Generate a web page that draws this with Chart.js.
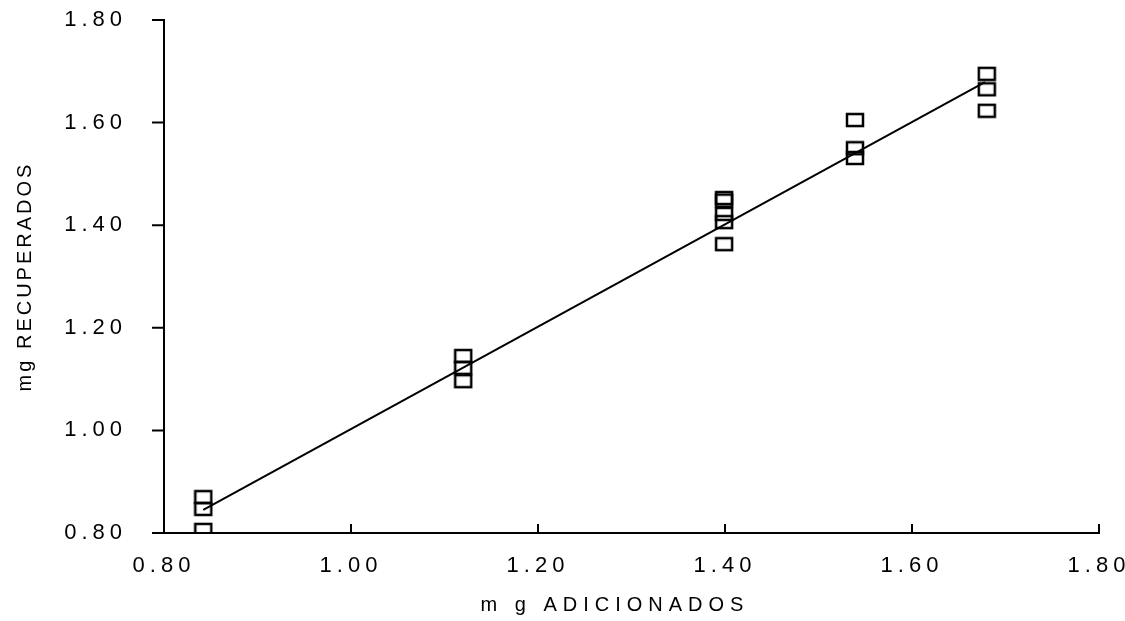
<!DOCTYPE html>
<html>
<head>
<meta charset="utf-8">
<script src="https://cdn.jsdelivr.net/npm/chart.js@4"></script>
<style>
  html, body { margin: 0; padding: 0; background: #fff; }
  #wrap { width: 1125px; height: 621px; position: relative; }
</style>
</head>
<body>
<div id="wrap"><canvas id="chart"></canvas></div>
<script>
// mg adicionados vs mg recuperados (replicas por nivel)
const addedMg = [0.842, 0.842, 0.842, 1.120, 1.120, 1.120, 1.399, 1.399, 1.399, 1.399, 1.399, 1.539, 1.539, 1.539, 1.680, 1.680, 1.680];
const recoveredMg = [0.870, 0.847, 0.806, 1.145, 1.122, 1.096, 1.453, 1.448, 1.422, 1.406, 1.363, 1.605, 1.550, 1.531, 1.695, 1.665, 1.623];

// recta de regresion (extremos)
const fitX = [0.842, 1.678];
const fitY = [0.845, 1.679];

const tickValues = [0.8, 1.0, 1.2, 1.4, 1.6, 1.8];
const xTitle = "m g ADICIONADOS";
const yTitle = "mg RECUPERADOS";

const FONT = "'Liberation Sans', Arial, sans-serif";

// marcador: rectangulo hueco
function makeBox() {
  const c = document.createElement("canvas");
  c.width = 20;
  c.height = 16;
  const g = c.getContext("2d");
  g.strokeStyle = "#000";
  g.lineWidth = 2.5;
  g.strokeRect(2, 2, 16, 12);
  return c;
}

const scatterPoints = addedMg.map((x, i) => ({ x: x, y: recoveredMg[i] }));
const fitPoints = fitX.map((x, i) => ({ x: x, y: fitY[i] }));

// marcas de los ejes y titulos
const axisDecor = {
  id: "axisDecor",
  beforeDraw(chart) {
    chart.ctx.letterSpacing = "5px";
  },
  afterDraw(chart) {
    const ctx = chart.ctx;
    const xs = chart.scales.x;
    const ys = chart.scales.y;
    const area = chart.chartArea;
    ctx.save();
    ctx.strokeStyle = "#000";
    ctx.lineWidth = 2;
    ctx.beginPath();
    tickValues.forEach((v) => {
      const px = xs.getPixelForValue(v);
      ctx.moveTo(px, area.bottom);
      ctx.lineTo(px, area.bottom - 9);
      const py = ys.getPixelForValue(v);
      ctx.moveTo(area.left, py);
      ctx.lineTo(area.left - 12, py);
    });
    ctx.stroke();

    ctx.fillStyle = "#000";
    ctx.textBaseline = "middle";
    ctx.textAlign = "center";
    ctx.font = "20px " + FONT;
    ctx.letterSpacing = "6px";
    ctx.fillText(xTitle, 615, 605);

    ctx.letterSpacing = "3px";
    ctx.translate(25, (area.top + area.bottom) / 2);
    ctx.rotate(-Math.PI / 2);
    ctx.fillText(yTitle, 0, 0);
    ctx.restore();
    ctx.letterSpacing = "0px";
  },
};

const ctx = document.getElementById("chart");

new Chart(ctx, {
  data: {
    datasets: [
      {
        type: "scatter",
        label: "datos",
        data: scatterPoints,
        pointStyle: makeBox(),
        pointRadius: 8,
      },
      {
        type: "line",
        label: "ajuste",
        data: fitPoints,
        borderColor: "#000",
        borderWidth: 2,
        pointRadius: 0,
        fill: false,
        tension: 0,
      },
    ],
  },
  options: {
    responsive: true,
    maintainAspectRatio: false,
    animation: false,
    events: [],
    layout: {
      autoPadding: false,
      padding: { top: 20, right: 26, bottom: 0, left: 0 },
    },
    plugins: {
      legend: { display: false },
      tooltip: { enabled: false },
    },
    scales: {
      x: {
        type: "linear",
        min: 0.8,
        max: 1.8,
        afterFit: (scale) => {
          scale.height = 88;
          scale.paddingLeft = 0;
          scale.paddingRight = 0;
        },
        afterBuildTicks: (scale) => {
          scale.ticks = tickValues.map((v) => ({ value: v }));
        },
        ticks: {
          padding: 20,
          color: "#000",
          font: { family: FONT, size: 22 },
          callback: (v) => v.toFixed(2),
        },
        grid: { display: false, drawTicks: false },
        border: { color: "#000", width: 2 },
      },
      y: {
        type: "linear",
        min: 0.8,
        max: 1.8,
        afterFit: (scale) => {
          scale.width = 164;
          scale.paddingTop = 0;
          scale.paddingBottom = 0;
        },
        afterBuildTicks: (scale) => {
          scale.ticks = tickValues.map((v) => ({ value: v }));
        },
        ticks: {
          padding: 37,
          color: "#000",
          font: { family: FONT, size: 22 },
          callback: (v) => v.toFixed(2),
        },
        grid: { display: false, drawTicks: false },
        border: { color: "#000", width: 2 },
      },
    },
  },
  plugins: [axisDecor],
});
</script>
</body>
</html>
